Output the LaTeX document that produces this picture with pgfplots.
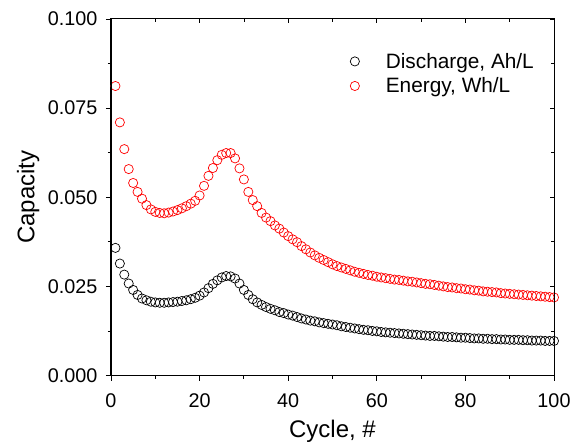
\documentclass[border=0pt]{standalone}
\usepackage{fontspec}
\setmainfont{Liberation Sans}
\usepackage{pgfplots}
\pgfplotsset{compat=1.18}
\usepackage{pgfplotstable}

\pgfplotstableread{
x dis en
1 0.0358 0.0812
2 0.0314 0.0710
3 0.0283 0.0635
4 0.0258 0.0579
5 0.0240 0.0540
6 0.0226 0.0515
7 0.0216 0.0496
8 0.0211 0.0478
9 0.0207 0.0466
10 0.0205 0.0459
11 0.0204 0.0456
12 0.0204 0.0455
13 0.0205 0.0457
14 0.0206 0.0460
15 0.0207 0.0464
16 0.0209 0.0469
17 0.0211 0.0475
18 0.0214 0.0482
19 0.0218 0.0490
20 0.0224 0.0505
21 0.0233 0.0532
22 0.0245 0.0560
23 0.0257 0.0582
24 0.0267 0.0604
25 0.0275 0.0619
26 0.0279 0.0624
27 0.0278 0.0624
28 0.0272 0.0609
29 0.0258 0.0581
30 0.0240 0.0550
31 0.0226 0.0515
32 0.0214 0.0492
33 0.0205 0.0475
34 0.0198 0.0456
35 0.0192 0.0443
36 0.0187 0.0433
37 0.0183 0.0421
38 0.0178 0.0412
39 0.0175 0.0401
40 0.0171 0.0391
41 0.0168 0.0382
42 0.0164 0.0374
43 0.0160 0.0363
44 0.0157 0.0354
45 0.0154 0.0345
46 0.0152 0.0337
47 0.0149 0.0330
48 0.0147 0.0324
49 0.0145 0.0318
50 0.0143 0.0312
51 0.0141 0.0307
52 0.0138 0.0303
53 0.0136 0.0299
54 0.0134 0.0295
55 0.0132 0.0291
56 0.0130 0.0288
57 0.0128 0.0285
58 0.0127 0.0282
59 0.0125 0.0280
60 0.0124 0.0277
61 0.0122 0.0275
62 0.0121 0.0273
63 0.0120 0.0271
64 0.0119 0.0269
65 0.0118 0.0268
66 0.0117 0.0266
67 0.0116 0.0264
68 0.0115 0.0263
69 0.0114 0.0261
70 0.0113 0.0259
71 0.0112 0.0257
72 0.0111 0.0256
73 0.0111 0.0254
74 0.0110 0.0252
75 0.0109 0.0250
76 0.0108 0.0248
77 0.0108 0.0247
78 0.0107 0.0245
79 0.0106 0.0244
80 0.0106 0.0242
81 0.0105 0.0241
82 0.0104 0.0239
83 0.0104 0.0238
84 0.0103 0.0236
85 0.0103 0.0235
86 0.0102 0.0234
87 0.0102 0.0233
88 0.0101 0.0231
89 0.0101 0.0230
90 0.0100 0.0229
91 0.0100 0.0228
92 0.0100 0.0227
93 0.0099 0.0226
94 0.0099 0.0225
95 0.0098 0.0224
96 0.0098 0.0223
97 0.0098 0.0222
98 0.0097 0.0221
99 0.0097 0.0220
100 0.0097 0.0219
}\datatable

\begin{document}
\begin{tikzpicture}
\pgfplotsset{
  common/.style={
    scale only axis,
    width=443bp, height=356.5bp,
    xmin=0, xmax=100, ymin=0, ymax=0.1,
    xtick={0,20,...,100}, minor x tick num=1,
    ytick={0,0.025,0.05,0.075,0.1}, minor y tick num=1,
    every tick/.style={black, line width=0.8bp},
    axis line style={black, line width=1bp},
  },
  myleg/.style={legend image code/.code={%
      \path[draw=none, fill=none] (0bp,0bp) rectangle (34bp,0bp);
      \draw[##1] plot coordinates {(5bp,0bp)};}},
}
\begin{axis}[common, name=ax,
  major tick length=5bp, minor tick length=3bp,
  xtick pos=bottom, ytick pos=left, tick align=outside,
  /pgf/number format/assume math mode=true,
  ticklabel style={font=\fontsize{19.8bp}{23bp}\selectfont},
  xticklabel style={yshift=-10bp},
  yticklabel style={xshift=-5bp, /pgf/number format/fixed, /pgf/number format/fixed zerofill, /pgf/number format/precision=3},
  scaled y ticks=false,
  xlabel={Cycle, \#}, ylabel={Capacity},
  label style={font=\fontsize{24bp}{28bp}\selectfont},
  xlabel style={at={([yshift=-41bp]rel axis cs:0.5,0)}, anchor=north},
  ylabel style={at={([xshift=-68bp]rel axis cs:0,0.5)}, anchor=south, rotate=0},
  legend style={draw=none, fill=none, at={(0.532,0.916)}, anchor=north west,
    font=\fontsize{20.8bp}{24bp}\selectfont, row sep=4bp},
  legend cell align=left,
]
\addplot[only marks, mark=o, mark size=4.6bp, black, line width=0.7bp, myleg] table[x=x, y=dis] {\datatable};
\addlegendentry{Discharge, Ah/L}
\addplot[only marks, mark=o, mark size=4.6bp, red, line width=0.7bp, myleg] table[x=x, y=en] {\datatable};
\addlegendentry{Energy, Wh/L}
\end{axis}
\begin{axis}[common,
  major tick length=4.5bp, minor tick length=2.7bp,
  xtick pos=top, ytick pos=right, tick align=inside,
  xticklabels={}, yticklabels={},
]
\end{axis}
\pgfresetboundingbox
\path ([shift={(-111bp,-69.5bp)}]ax.south west) rectangle ([shift={(22bp,19bp)}]ax.north east);
\end{tikzpicture}
\end{document}
